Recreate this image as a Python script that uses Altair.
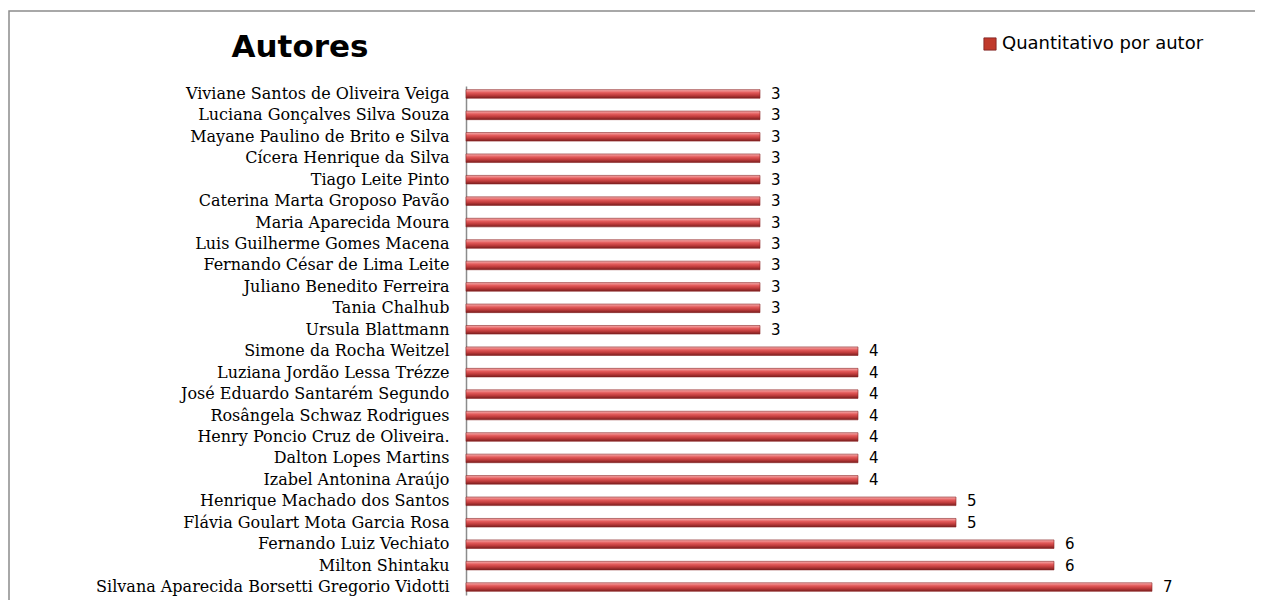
import altair as alt
import pandas as pd

autores = [
    "Viviane Santos de Oliveira Veiga",
    "Luciana Gonçalves Silva Souza",
    "Mayane Paulino de Brito e Silva",
    "Cícera Henrique da Silva",
    "Tiago Leite Pinto",
    "Caterina Marta Groposo Pavão",
    "Maria Aparecida Moura",
    "Luis Guilherme Gomes Macena",
    "Fernando César de Lima Leite",
    "Juliano Benedito Ferreira",
    "Tania Chalhub",
    "Ursula Blattmann",
    "Simone da Rocha Weitzel",
    "Luziana Jordão Lessa Trézze",
    "José Eduardo Santarém Segundo",
    "Rosângela Schwaz Rodrigues",
    "Henry Poncio Cruz de Oliveira.",
    "Dalton Lopes Martins",
    "Izabel Antonina Araújo",
    "Henrique Machado dos Santos",
    "Flávia Goulart Mota Garcia Rosa",
    "Fernando Luiz Vechiato",
    "Milton Shintaku",
    "Silvana Aparecida Borsetti Gregorio Vidotti",
]
quantidades = [3, 3, 3, 3, 3, 3, 3, 3, 3, 3, 3, 3, 4, 4, 4, 4, 4, 4, 4, 5, 5, 6, 6, 7]
serie = "Quantitativo por autor"
titulo = "Autores"

df = pd.DataFrame({"autor": autores, "qtd": quantidades})

grad = alt.Gradient(
    gradient="linear", x1=0, y1=0, x2=0, y2=1,
    stops=[
        alt.GradientStop(color="#f7b0b0", offset=0),
        alt.GradientStop(color="#e35a5a", offset=0.35),
        alt.GradientStop(color="#c03c3c", offset=0.65),
        alt.GradientStop(color="#7a1e1e", offset=1),
    ],
)

W, H = 784, 509
TOP = 78

y_enc = alt.Y(
    "autor:N", sort=autores, title=None,
    scale=alt.Scale(paddingInner=0.6, paddingOuter=0.17),
    axis=alt.Axis(
        domain=True, domainColor="#8c8c8c", domainWidth=1.5, ticks=False,
        labelFont="DejaVu Serif", labelFontSize=16, labelColor="#000000",
        labelPadding=17, labelLimit=460,
    ),
)
x_enc = alt.X("qtd:Q", scale=alt.Scale(domain=[0, 8]), axis=None)

bars = alt.Chart(df).mark_bar(color=grad, stroke="#8a2525", strokeWidth=0.6).encode(x=x_enc, y=y_enc)

labels = alt.Chart(df).mark_text(
    align="left", baseline="middle", dx=11, font="DejaVu Sans", fontSize=15, color="#000000"
).encode(x=x_enc, y=alt.Y("autor:N", sort=autores), text="qtd:Q")

frame = alt.Chart(pd.DataFrame({"a": [0]})).mark_rect(
    fill=None, stroke="#8c8c8c", strokeWidth=1.5, clip=False
).encode(
    x=alt.value(-457), x2=alt.value(W + 80), y=alt.value(11 - 8 - TOP), y2=alt.value(H + 60)
)

title_df = pd.DataFrame({"t": [titulo]})
title_mark = alt.Chart(title_df).mark_text(
    font="DejaVu Sans", fontSize=31, fontWeight="bold", color="#000000",
    align="center", baseline="middle",
).encode(x=alt.value(300 - 466), y=alt.value(48 - 8 - TOP), text="t:N")

leg_df = pd.DataFrame({"s": [serie]})
leg_sq = alt.Chart(leg_df).mark_square(
    size=150, fill="#c0392b", stroke="#7a1e1e", strokeWidth=0.8, opacity=1
).encode(x=alt.value(990 - 466), y=alt.value(44 - 8 - TOP))
leg_txt = alt.Chart(leg_df).mark_text(
    font="DejaVu Sans", fontSize=18, color="#000000", align="left", baseline="middle"
).encode(x=alt.value(1002 - 466), y=alt.value(44 - 8 - TOP), text="s:N")

chart = alt.layer(frame, bars, labels, title_mark, leg_sq, leg_txt).properties(
    width=W, height=H,
    padding={"left": 458, "top": TOP, "right": 5, "bottom": 5},
    autosize=alt.AutoSizeParams(type="none"),
    background="#ffffff",
).configure_view(strokeWidth=0, stroke=None)

chart.save("out.html", embed_options={"renderer": "svg", "actions": False})
